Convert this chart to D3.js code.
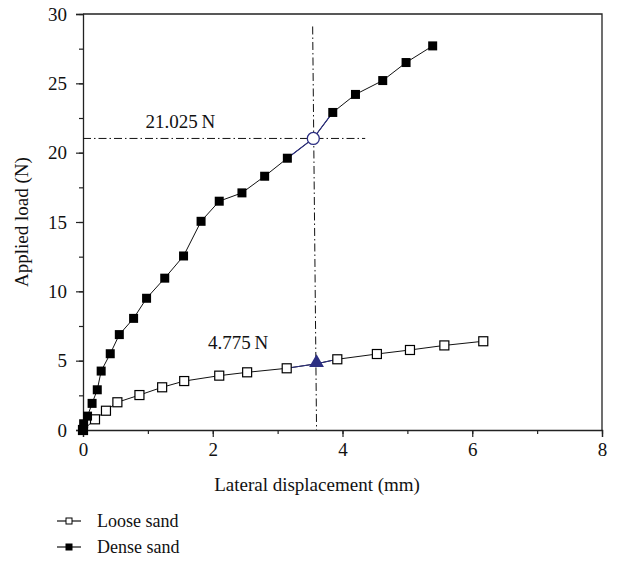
<!DOCTYPE html>
<html>
<head>
<meta charset="utf-8">
<script src="https://cdn.jsdelivr.net/npm/d3@7"></script>
<style>
  body { margin: 0; background: #fff; }
  svg text { font-family: "Liberation Serif", "DejaVu Serif", serif; fill: #111; }
</style>
</head>
<body>
<div id="chart"></div>
<script>
// Dense sand (filled squares); point at index 17 is the marked 21.025 N point
var denseX = [0, 0.01, 0.07, 0.14, 0.22, 0.28, 0.42, 0.56, 0.78, 0.98, 1.26, 1.55, 1.82, 2.1, 2.45, 2.80, 3.15, 3.55, 3.85, 4.20, 4.62, 4.98, 5.39];
var denseY = [0, 0.45, 1.0, 1.92, 2.9, 4.25, 5.5, 6.88, 8.05, 9.5, 10.95, 12.55, 15.05, 16.5, 17.1, 18.3, 19.6, 21.025, 22.9, 24.2, 25.2, 26.5, 27.7];
var denseMark = 17;

// Loose sand (open squares); point at index 10 is the marked 4.775 N point
var looseX = [0, 0.185, 0.354, 0.53, 0.87, 1.22, 1.56, 2.10, 2.53, 3.14, 3.60, 3.92, 4.53, 5.04, 5.57, 6.17];
var looseY = [0, 0.77, 1.39, 2.0, 2.52, 3.08, 3.53, 3.92, 4.16, 4.45, 4.775, 5.1, 5.48, 5.77, 6.1, 6.4];
var looseMark = 10;

var xTicks = [0, 2, 4, 6, 8];
var yTicks = [0, 5, 10, 15, 20, 25, 30];
var legendNames = ["Loose sand", "Dense sand"];

// guide lines (dash-dot)
var vGuide = [[3.54, 29.1], [3.60, 0]];
var hGuide = [[0, 21.025], [4.35, 21.025]];
var labelHigh = "21.025\u2009N";
var labelLow = "4.775\u2009N";

var width = 617, height = 567;
var margin = {left: 83, top: 14, right: 15, bottom: 137};
var navy = "#2c2f82";
var fontSize = "19px";

var svg = d3.select("#chart").append("svg")
    .attr("width", width)
    .attr("height", height);

var x = d3.scaleLinear().domain([0, 8]).range([margin.left, width - margin.right]);
var y = d3.scaleLinear().domain([0, 30]).range([height - margin.bottom, margin.top]);

//Axes with minor ticks
var xMinor = d3.range(0, 8.01, 1);
var yMinor = d3.range(0, 30.01, 2.5);

svg.append("g")
    .attr("transform", "translate(0," + y(0) + ")")
    .call(d3.axisBottom(x).tickValues(xMinor).tickSize(4).tickFormat(""))
    .call(function(g) { g.select(".domain").remove(); });
svg.append("g")
    .attr("transform", "translate(" + x(0) + ",0)")
    .call(d3.axisLeft(y).tickValues(yMinor).tickSize(4).tickFormat(""))
    .call(function(g) { g.select(".domain").remove(); });

var xAxis = svg.append("g")
    .attr("transform", "translate(0," + y(0) + ")")
    .call(d3.axisBottom(x).tickValues(xTicks).tickSize(7).tickPadding(6).tickFormat(d3.format("d")));
var yAxis = svg.append("g")
    .attr("transform", "translate(" + x(0) + ",0)")
    .call(d3.axisLeft(y).tickValues(yTicks).tickSize(7).tickPadding(9).tickFormat(d3.format("d")));

svg.selectAll(".tick line").attr("stroke", "#222").attr("stroke-width", 1.2);
svg.selectAll(".domain").attr("stroke", "#222").attr("stroke-width", 1.3);
xAxis.selectAll("text").style("font-size", fontSize).style("font-family", "Liberation Serif");
yAxis.selectAll("text").style("font-size", fontSize).style("font-family", "Liberation Serif");

//Frame top & right
svg.append("path")
    .attr("d", "M" + x(0) + "," + y(30) + "H" + x(8) + "V" + y(0))
    .attr("fill", "none")
    .attr("stroke", "#222")
    .attr("stroke-width", 1.3);

//Axis titles
svg.append("text")
    .attr("x", 317)
    .attr("y", 491)
    .attr("text-anchor", "middle")
    .style("font-size", fontSize)
    .text("Lateral displacement (mm)");

svg.append("text")
    .attr("transform", "translate(28," + y(15) + ") rotate(-90)")
    .attr("text-anchor", "middle")
    .style("font-size", fontSize)
    .text("Applied load (N)");

//Guide lines
var guide = d3.line().x(function(d) { return x(d[0]); }).y(function(d) { return y(d[1]); });
[vGuide, hGuide].forEach(function(pts) {
    svg.append("path")
        .attr("d", guide(pts))
        .attr("fill", "none")
        .attr("stroke", "#111")
        .attr("stroke-width", 1)
        .attr("stroke-dasharray", "8,3,1.5,3");
});

//Series
function drawSeries(xs, ys, mark, filled) {
    var pts = xs.map(function(v, i) { return [v, ys[i]]; });
    svg.append("path")
        .attr("d", guide(pts))
        .attr("fill", "none")
        .attr("stroke", "#111")
        .attr("stroke-width", 1);
    //navy segments around the marked point
    svg.append("path")
        .attr("d", guide(pts.slice(mark - 1, mark + 2)))
        .attr("fill", "none")
        .attr("stroke", navy)
        .attr("stroke-width", 1.1);
    svg.append("g").selectAll("rect")
        .data(pts.filter(function(d, i) { return i !== mark; }))
        .enter().append("rect")
        .attr("x", function(d) { return x(d[0]) - 4.5; })
        .attr("y", function(d) { return y(d[1]) - 4.5; })
        .attr("width", 9)
        .attr("height", 9)
        .attr("fill", filled ? "#000" : "#fff")
        .attr("stroke", "#000")
        .attr("stroke-width", filled ? 0 : 1.2);
    return pts[mark];
}

drawSeries(looseX, looseY, looseMark, false);
var pHigh = drawSeries(denseX, denseY, denseMark, true);
var pLow = [looseX[looseMark], looseY[looseMark]];

svg.append("circle")
    .attr("cx", x(pHigh[0]))
    .attr("cy", y(pHigh[1]))
    .attr("r", 6)
    .attr("fill", "#fff")
    .attr("stroke", navy)
    .attr("stroke-width", 1.3);
svg.append("path")
    .attr("d", d3.symbol().type(d3.symbolTriangle).size(95)())
    .attr("transform", "translate(" + x(pLow[0]) + "," + (y(pLow[1]) - 1) + ")")
    .attr("fill", navy);

// value labels
svg.append("text")
    .attr("x", x(1.5))
    .attr("y", y(pHigh[1]) - 10)
    .attr("text-anchor", "middle")
    .style("font-size", fontSize)
    .text(labelHigh);
svg.append("text")
    .attr("x", x(2.39))
    .attr("y", y(pLow[1]) - 15)
    .attr("text-anchor", "middle")
    .style("font-size", fontSize)
    .text(labelLow);

//Legend
var legend = svg.append("g").selectAll("g")
    .data(legendNames)
    .enter().append("g")
    .attr("transform", function(d, i) { return "translate(57," + (521 + i * 26) + ")"; });
legend.append("line")
    .attr("x1", 0).attr("x2", 24)
    .attr("stroke", "#111").attr("stroke-width", 1.2);
legend.append("rect")
    .attr("x", 9).attr("y", -3).attr("width", 6).attr("height", 6)
    .attr("fill", function(d, i) { return i ? "#000" : "#fff"; })
    .attr("stroke", "#000").attr("stroke-width", 1);
legend.append("text")
    .attr("x", 40)
    .attr("dy", "0.35em")
    .style("font-size", "18px")
    .text(function(d) { return d; });
</script>
</body>
</html>
